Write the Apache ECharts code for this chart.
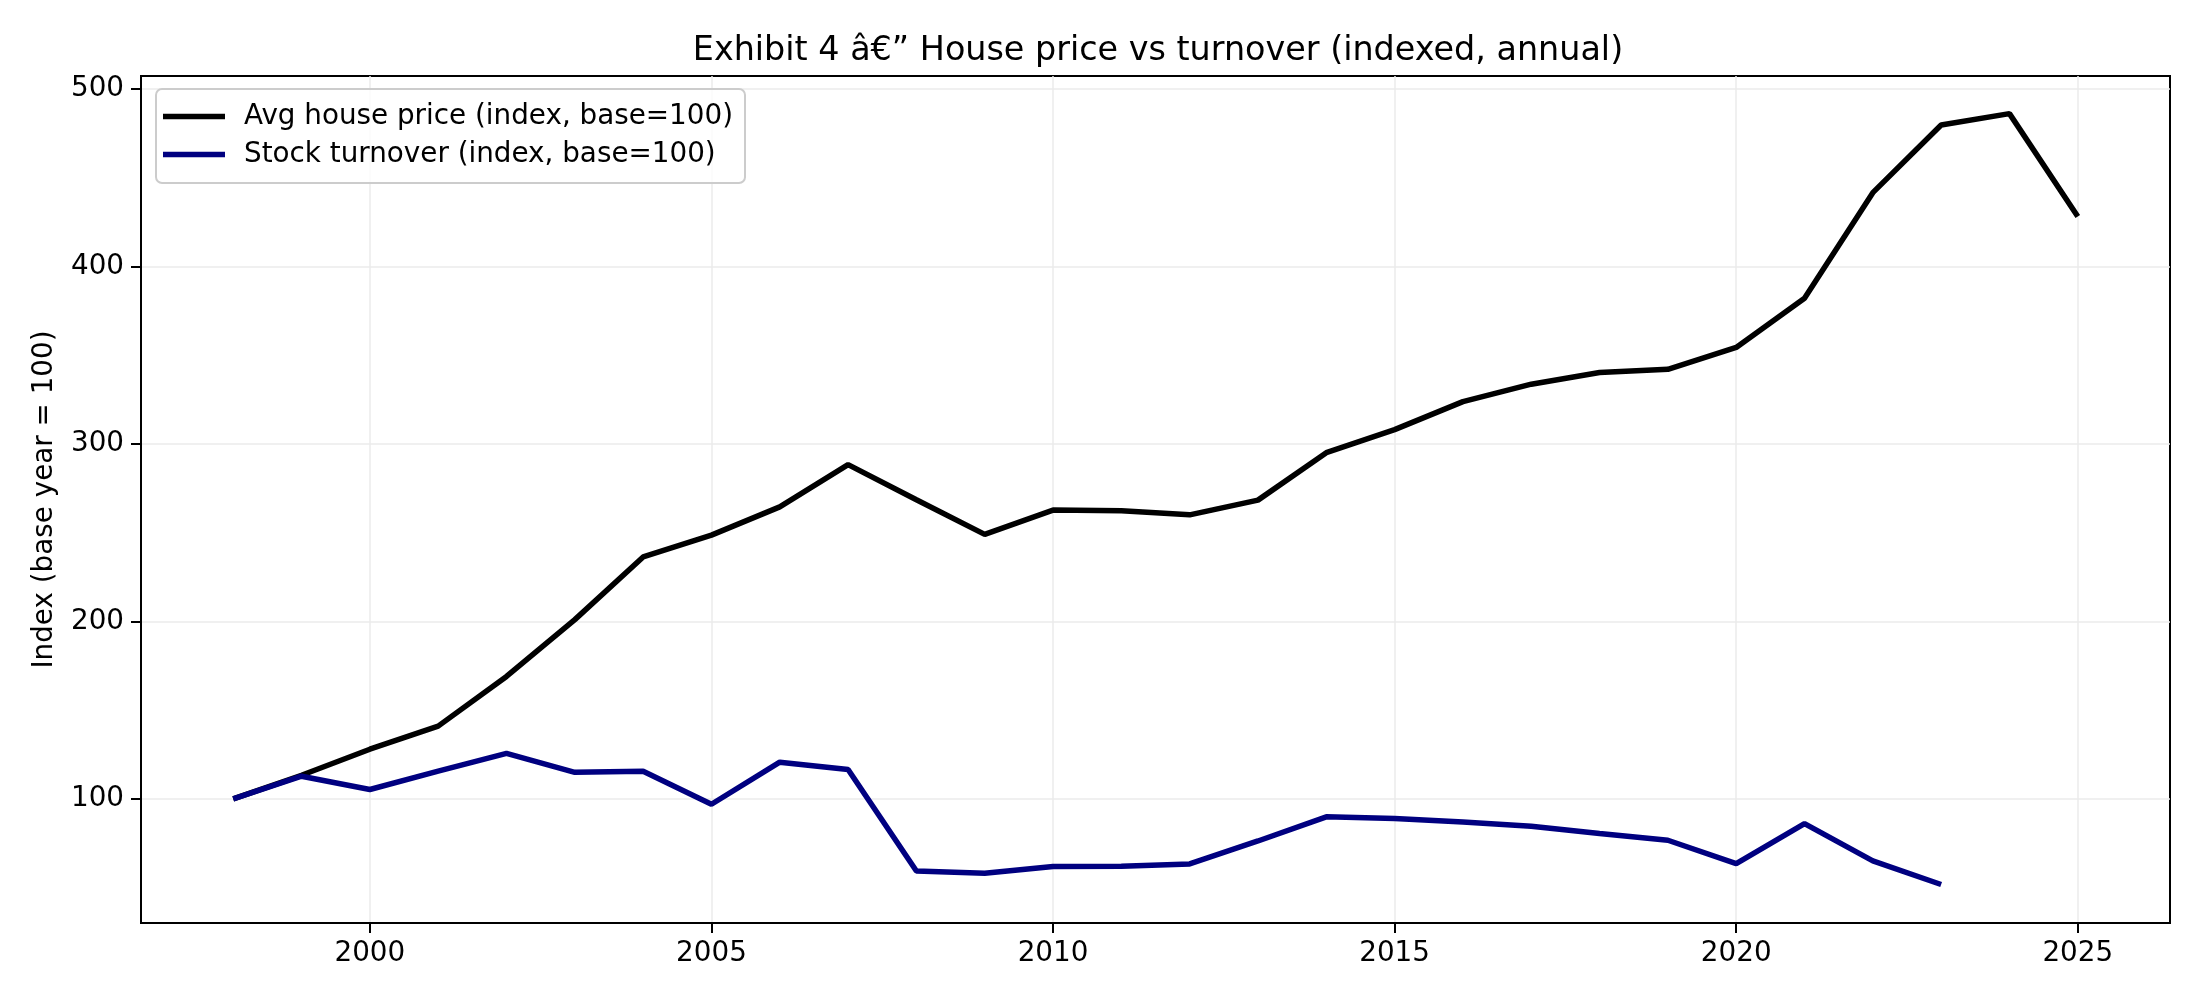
<!DOCTYPE html>
<html>
<head>
<meta charset="utf-8">
<script src="https://cdn.jsdelivr.net/npm/echarts@6/dist/echarts.min.js"></script>
<style>
html, body { margin: 0; padding: 0; background: #fff; }
#main { width: 2200px; height: 1000px; }
</style>
</head>
<body>
<div id="main"></div>
<script>
var years = [1998, 1999, 2000, 2001, 2002, 2003, 2004, 2005, 2006, 2007, 2008, 2009, 2010, 2011,
    2012, 2013, 2014, 2015, 2016, 2017, 2018, 2019, 2020, 2021, 2022, 2023, 2024, 2025];
var housePrice = [100, 113.3, 128, 141, 169, 201, 236.3, 248.6, 264.5, 288.3, 268.5, 249, 262.7, 262.3,
    260, 268.3, 295, 308, 323.8, 333.6, 340.2, 342, 354.3, 382, 441.5, 479.6, 486, 428];
var turnover = [100, 112.8, 105.3, 115.6, 125.6, 115, 115.6, 97, 120.7, 116.6, 59.4, 58.1, 61.9, 62,
    63.4, 76.3, 89.9, 89, 87, 84.6, 80.5, 76.7, 63.6, 86.1, 65.1, 51.8];
var xTicks = [2000, 2005, 2010, 2015, 2020, 2025];
var yTicks = [100, 200, 300, 400, 500];
var seriesNames = ['Avg house price (index, base=100)', 'Stock turnover (index, base=100)'];

var priceData = [];
var turnData = [];
for (var i = 0; i < years.length; i++) {
    priceData.push([years[i], housePrice[i]]);
    if (i < turnover.length) {
        turnData.push([years[i], turnover[i]]);
    }
}

var font = 'DejaVu Sans';
var chart = echarts.init(document.getElementById('main'));

var option = {
    backgroundColor: '#fff',
    animation: false,
    title: {
        text: 'Exhibit 4 \u00e2\u20ac\u201d House price vs turnover (indexed, annual)',
        left: 1153,
        textAlign: 'center',
        top: 30,
        textStyle: {
            fontFamily: font,
            fontSize: 33.4,
            fontWeight: 'normal',
            color: '#000'
        }
    },
    legend: {
        data: seriesNames,
        orient: 'vertical',
        left: 156,
        top: 89,
        icon: 'rect',
        itemWidth: 62,
        itemHeight: 5.5,
        itemGap: 9,
        padding: [13, 12, 14, 7],
        borderColor: '#cccccc',
        borderWidth: 2,
        borderRadius: 6,
        backgroundColor: 'rgba(255,255,255,0.8)',
        textStyle: {
            fontFamily: font,
            fontSize: 27.8,
            lineHeight: 29,
            color: '#000',
            padding: [0, 0, 0, 14]
        }
    },
    grid: {
        left: 141,
        right: 30,
        top: 76,
        bottom: 77,
        show: true,
        borderColor: '#000',
        borderWidth: 2
    },
    xAxis: {
        type: 'value',
        min: 1996.65,
        max: 2026.35,
        axisLine: { show: true, onZero: false, lineStyle: { color: '#000', width: 2 } },
        axisTick: {
            show: true,
            length: 10,
            lineStyle: { color: '#000', width: 2 },
            customValues: xTicks
        },
        axisLabel: {
            customValues: xTicks,
            margin: 17,
            fontFamily: font,
            fontSize: 27.8,
            color: '#000',
            formatter: function (v) { return String(v); }
        },
        splitLine: { show: true, lineStyle: { color: '#ebebeb', width: 1.5 } }
    },
    yAxis: {
        type: 'value',
        min: 30.1,
        max: 507.2,
        name: 'Index (base year = 100)',
        nameLocation: 'middle',
        nameGap: 82,
        nameTextStyle: {
            fontFamily: font,
            fontSize: 27.8,
            color: '#000'
        },
        axisLine: { show: true, onZero: false, lineStyle: { color: '#000', width: 2 } },
        axisTick: {
            show: true,
            length: 10,
            lineStyle: { color: '#000', width: 2 },
            customValues: yTicks
        },
        axisLabel: {
            customValues: yTicks,
            margin: 17,
            fontFamily: font,
            fontSize: 27.8,
            color: '#000'
        },
        splitLine: { show: true, lineStyle: { color: '#ebebeb', width: 1.5 } }
    },
    series: [
        {
            name: seriesNames[0],
            type: 'line',
            data: priceData,
            symbol: 'none',
            lineStyle: { color: '#000000', width: 5.5 },
            itemStyle: { color: '#000000' },
            z: 3
        },
        {
            name: seriesNames[1],
            type: 'line',
            data: turnData,
            symbol: 'none',
            lineStyle: { color: '#000080', width: 5.5 },
            itemStyle: { color: '#000080' },
            z: 4
        }
    ]
};

chart.setOption(option);
</script>
</body>
</html>
